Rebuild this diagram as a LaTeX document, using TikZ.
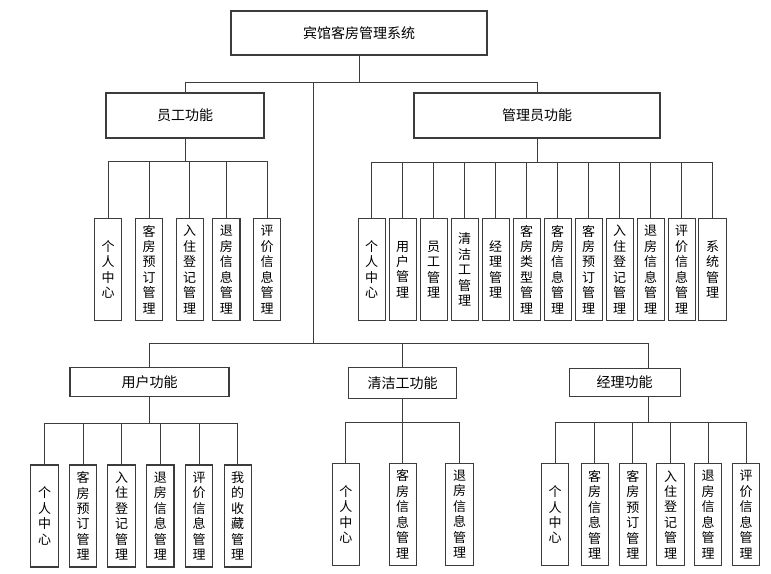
\documentclass[tikz,border=0pt]{standalone}
\usepackage{fontspec}
\newfontfamily\cjk{Noto Sans CJK SC}
\definecolor{lc}{RGB}{60,60,60}
\begin{document}
\begin{tikzpicture}[x=0.75pt,y=-0.75pt,
  hbox/.style={draw=lc, line width=0.8pt, fill=white, inner sep=0pt, font=\cjk\fontsize{10.5pt}{12pt}\selectfont},
  vb/.style={draw=lc, line width=0.8pt, fill=white, inner sep=0pt, minimum width=20.5pt, minimum height=76.5pt, align=center, font=\cjk\fontsize{9.75pt}{11.6pt}\selectfont},
  conn/.style={draw=lc, line width=0.75pt}]
\useasboundingbox (0,0) rectangle (771,574);
% top level
\node[hbox, minimum width=192pt, minimum height=33pt] (root) at (359,33) {宾馆客房管理系统};
\node[hbox, minimum width=118.5pt, minimum height=33.75pt] (staff) at (185,115.5) {员工功能};
\node[hbox, minimum width=184.5pt, minimum height=33.75pt] (admin) at (537,115.5) {管理员功能};
\coordinate (mid) at (313.5,343);
\node[hbox, minimum width=119.25pt, minimum height=21.75pt] (user) at (149.5,382) {用户功能};
\node[hbox, minimum width=81pt, minimum height=23.25pt] (clean) at (402.5,383) {清洁工功能};
\node[hbox, minimum width=83.25pt, minimum height=21.4pt] (mgr) at (624.7,382.5) {经理功能};
% staff children
\node[vb] (s1) at (108.2,269.5) {个\\人\\中\\心};
\node[vb] (s2) at (149,269.5) {客\\房\\预\\订\\管\\理};
\node[vb] (s3) at (189.7,269.5) {入\\住\\登\\记\\管\\理};
\node[vb] (s4) at (226.3,269.5) {退\\房\\信\\息\\管\\理};
\node[vb] (s5) at (267,269.5) {评\\价\\信\\息\\管\\理};
% admin children
\node[vb] (a1) at (371.7,269.5) {个\\人\\中\\心};
\node[vb] (a2) at (402.7,269.5) {用\\户\\管\\理};
\node[vb] (a3) at (433.7,269.5) {员\\工\\管\\理};
\node[vb] (a4) at (464.7,269.5) {清\\洁\\工\\管\\理};
\node[vb] (a5) at (495.7,269.5) {经\\理\\管\\理};
\node[vb] (a6) at (526.7,269.5) {客\\房\\类\\型\\管\\理};
\node[vb] (a7) at (557.7,269.5) {客\\房\\信\\息\\管\\理};
\node[vb] (a8) at (588.7,269.5) {客\\房\\预\\订\\管\\理};
\node[vb] (a9) at (619.7,269.5) {入\\住\\登\\记\\管\\理};
\node[vb] (a10) at (650.7,269.5) {退\\房\\信\\息\\管\\理};
\node[vb] (a11) at (681.7,269.5) {评\\价\\信\\息\\管\\理};
\node[vb] (a12) at (712.5,269.5) {系\\统\\管\\理};
% user children
\node[vb] (u1) at (44.5,516) {个\\人\\中\\心};
\node[vb] (u2) at (83,516) {客\\房\\预\\订\\管\\理};
\node[vb] (u3) at (121.5,516) {入\\住\\登\\记\\管\\理};
\node[vb] (u4) at (160.3,516) {退\\房\\信\\息\\管\\理};
\node[vb] (u5) at (199,516) {评\\价\\信\\息\\管\\理};
\node[vb] (u6) at (237.7,516) {我\\的\\收\\藏\\管\\理};
% cleaner children
\node[vb] (c1) at (345.8,514.2) {个\\人\\中\\心};
\node[vb] (c2) at (402.7,514.2) {客\\房\\信\\息\\管\\理};
\node[vb] (c3) at (459.5,514.2) {退\\房\\信\\息\\管\\理};
% manager children
\node[vb] (m1) at (555,514.7) {个\\人\\中\\心};
\node[vb] (m2) at (594.7,514.7) {客\\房\\信\\息\\管\\理};
\node[vb] (m3) at (632.8,514.7) {客\\房\\预\\订\\管\\理};
\node[vb] (m4) at (670.5,514.7) {入\\住\\登\\记\\管\\理};
\node[vb] (m5) at (708.2,514.7) {退\\房\\信\\息\\管\\理};
\node[vb] (m6) at (746.2,514.7) {评\\价\\信\\息\\管\\理};
% connectors
\draw[conn] (root.south) -- ++(0,27) -| (staff.north);
\draw[conn] (root.south) -- ++(0,27) -| (admin.north);
\draw[conn] (root.south) -- ++(0,27) -| (mid);
\draw[conn] (mid) -| (user.north);
\draw[conn] (mid) -| (clean.north);
\draw[conn] (mid) -| ([xshift=17.5pt]mgr.north);
\foreach \c in {s1,s2,s3,s4,s5} \draw[conn] (staff.south) -- ++(0,23) -| (\c.north);
\foreach \c in {a1,a2,a3,a4,a5,a6,a7,a8,a9,a10,a11,a12} \draw[conn] (admin.south) -- ++(0,24) -| (\c.north);
\foreach \c in {u1,u2,u3,u4,u5,u6} \draw[conn] (user.south) -- ++(0,26.5) -| (\c.north);
\foreach \c in {c1,c2,c3} \draw[conn] (clean.south) -- ++(0,23.5) -| (\c.north);
\foreach \c in {m1,m2,m3,m4,m5,m6} \draw[conn] ([xshift=17.5pt]mgr.south) -- ++(0,25) -| (\c.north);
\end{tikzpicture}
\end{document}
